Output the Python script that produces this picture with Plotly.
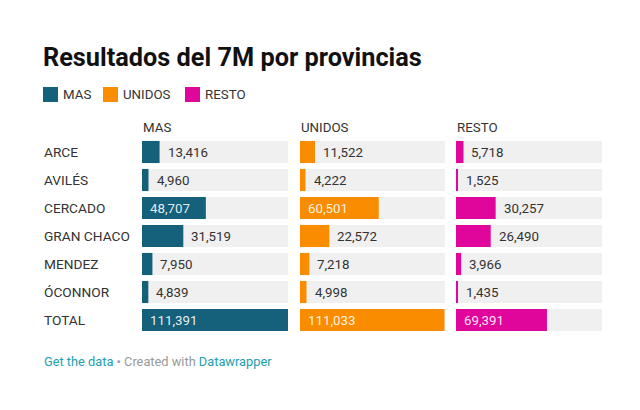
import plotly.graph_objects as go

W, H = 640, 410

provinces = ["ARCE", "AVILÉS", "CERCADO", "GRAN CHACO", "MENDEZ", "ÓCONNOR", "TOTAL"]
series_names = ["MAS", "UNIDOS", "RESTO"]
mas = [13416, 4960, 48707, 31519, 7950, 4839, 111391]
unidos = [11522, 4222, 60501, 22572, 7218, 4998, 111033]
resto = [5718, 1525, 30257, 26490, 3966, 1435, 69391]
colors = ["#15607a", "#fa8c00", "#e0059b"]

series_values = [mas, unidos, resto]
max_val = max(max(s) for s in series_values)

FONT = "Roboto"
TEXT = "#333333"
BG_BAR = "#f0f0f0"

def px_x(p):
    return p / W

def px_y(p):
    return 1 - p / H

col_domains = [(142, 288), (300, 445), (456, 602)]
row_top, row_bottom = 138, 334
legend_swatch_x = [43, 103, 185]

fig = go.Figure()
annotations = []

for i, (name, vals, col) in enumerate(zip(series_names, series_values, colors)):
    xa = "x" if i == 0 else f"x{i+1}"
    fig.add_trace(go.Bar(
        y=provinces, x=[max_val] * len(provinces), orientation="h",
        xaxis=xa, yaxis="y", marker=dict(color=BG_BAR, line=dict(width=0)),
        width=0.79, showlegend=False, hoverinfo="skip"))
    fig.add_trace(go.Bar(
        y=provinces, x=vals, orientation="h", name=name,
        xaxis=xa, yaxis="y", marker=dict(color=col, line=dict(width=0)),
        width=0.79, showlegend=False))
    # column header
    annotations.append(dict(
        text=name, xref=f"{xa} domain", yref="paper", x=0, y=px_y(127),
        xanchor="left", yanchor="middle", showarrow=False, xshift=-1,
        font=dict(family=FONT, size=13.3, color=TEXT)))
    # legend swatch + label
    lx = legend_swatch_x[i]
    annotations.append(dict(
        text=" ", xref="paper", yref="paper", x=px_x(lx), y=px_y(94.5),
        xanchor="left", yanchor="middle", showarrow=False,
        width=15, height=15, bgcolor=col, borderpad=0, borderwidth=0,
        font=dict(size=1)))
    annotations.append(dict(
        text=name, xref="paper", yref="paper", x=px_x(lx + 18), y=px_y(94.5),
        xanchor="left", yanchor="middle", showarrow=False,
        font=dict(family=FONT, size=13.3, color=TEXT)))
    # value labels
    for prov, v in zip(provinces, vals):
        inside = v / max_val > 0.36
        annotations.append(dict(
            text=f"{v:,}", xref=xa, yref="y",
            x=0 if inside else v, y=prov,
            xanchor="left", yanchor="middle", showarrow=False,
            xshift=6,
            font=dict(family=FONT, size=13.3,
                      color="rgba(255,255,255,0.9)" if inside else TEXT)))

# row labels
for prov in provinces:
    annotations.append(dict(
        text=prov, xref="paper", yref="y", x=px_x(42), y=prov,
        xanchor="left", yanchor="middle", showarrow=False,
        font=dict(family=FONT, size=13.7, color=TEXT)))

# title
annotations.append(dict(
    text="<b>Resultados del 7M por provincias</b>", xref="paper", yref="paper",
    x=px_x(41), y=px_y(57), xanchor="left", yanchor="middle", showarrow=False,
    font=dict(family=FONT, size=25.3, color="#111111")))

# footer
annotations.append(dict(
    text=("<span style='color:#1ba0b0'>Get the data</span>"
          "<span style='color:#999999'> • Created with </span>"
          "<span style='color:#1ba0b0'>Datawrapper</span>"),
    xref="paper", yref="paper", x=px_x(42), y=px_y(361),
    xanchor="left", yanchor="middle", showarrow=False,
    font=dict(family=FONT, size=12.8, color="#999999")))

layout = dict(
    width=W, height=H,
    margin=dict(l=0, r=0, t=0, b=0),
    paper_bgcolor="white", plot_bgcolor="white",
    barmode="overlay",
    showlegend=False,
    yaxis=dict(domain=[px_y(row_bottom), px_y(row_top)],
               categoryorder="array", categoryarray=provinces,
               range=[len(provinces) - 0.5, -0.5],
               showgrid=False, zeroline=False, showticklabels=False,
               showline=False, ticks="", anchor="x"),
    annotations=annotations,
)
for i, (a, b) in enumerate(col_domains):
    key = "xaxis" if i == 0 else f"xaxis{i+1}"
    layout[key] = dict(domain=[px_x(a), px_x(b)], range=[0, max_val],
                       showgrid=False, zeroline=False, showticklabels=False,
                       showline=False, ticks="", anchor="y", fixedrange=True)

fig.update_layout(**layout)
fig.write_html("out.html")
